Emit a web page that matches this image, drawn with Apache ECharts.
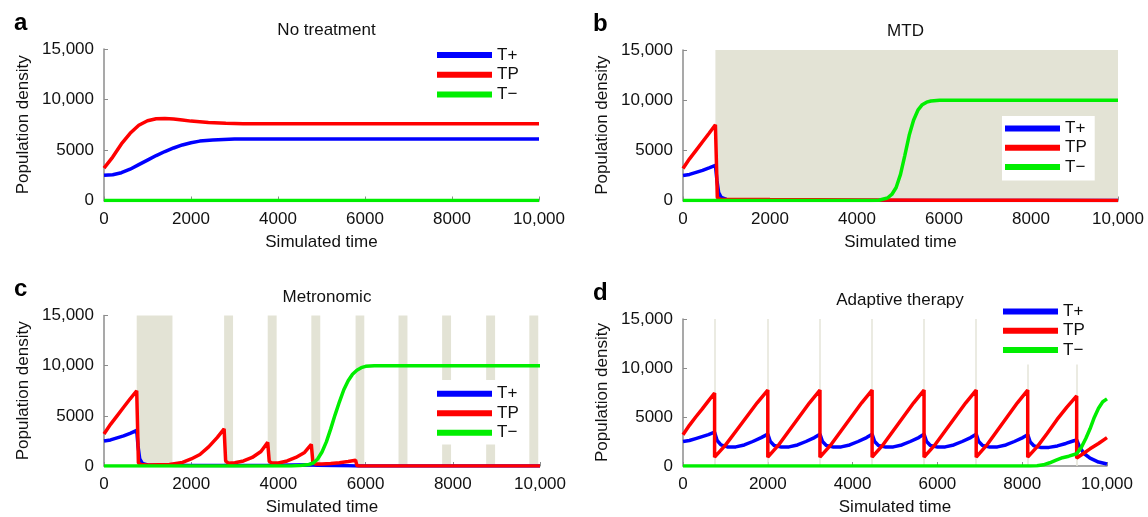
<!DOCTYPE html>
<html>
<head>
<meta charset="utf-8">
<script src="https://cdn.jsdelivr.net/npm/echarts@6/dist/echarts.min.js"></script>
<style>
  html, body { margin: 0; padding: 0; background: #fff; }
  #main { width: 1148px; height: 517px; }
</style>
</head>
<body>
<div id="main"></div>
<script>
// ---- data: [time, population density] ----
var xTicks = [0, 2000, 4000, 6000, 8000, 10000];
var yTicks = [0, 5000, 10000, 15000];
var names = ['T+', 'TP', 'T\u2212'];

// a  No treatment
var aTplus = [[0, 2500], [200, 2550], [400, 2750], [600, 3100], [800, 3550], [1000, 4000], [1200, 4450], [1400, 4850],
  [1600, 5200], [1800, 5500], [2000, 5720], [2200, 5880], [2500, 6000], [3000, 6080], [3500, 6100], [10000, 6100]];
var aTP = [[0, 3200], [200, 4300], [400, 5600], [600, 6650], [800, 7450], [1000, 7900], [1200, 8100], [1400, 8120],
  [1600, 8060], [1800, 7960], [2000, 7860], [2400, 7720], [2800, 7640], [3200, 7610], [4000, 7600], [10000, 7600]];
var aTminus = [[0, 0], [10000, 0]];

// b  MTD
var bTplus = [[0, 2500], [150, 2600], [300, 2800], [450, 3000], [600, 3250], [745, 3500], [780, 2000], [820, 800],
  [880, 300], [1000, 100], [1500, 30], [10000, 0]];
var bTP = [[0, 3200], [150, 4150], [300, 5000], [450, 5850], [600, 6700], [745, 7550], [790, 300], [850, 120],
  [2000, 90], [4000, 60], [6000, 30], [8000, 15], [10000, 5]];
var bTminus = [[0, 0], [4300, 0], [4500, 30], [4700, 250], [4800, 600], [4900, 1300], [5000, 2600], [5100, 4500],
  [5200, 6500], [5300, 8000], [5400, 9000], [5500, 9550], [5600, 9800], [5700, 9920], [5900, 10000], [10000, 10000]];
var bTreat = [[745, 10000]];

// c  Metronomic
var cTplus = [[0, 2500], [150, 2600], [300, 2800], [450, 3000], [600, 3250], [750, 3550], [780, 2000], [820, 700],
  [880, 250], [1000, 100], [2000, 60], [3000, 50], [4000, 80], [4700, 120], [4900, 80], [5200, 40], [5600, 20],
  [5800, 0], [10000, 0]];
var cTP = [[0, 3200], [150, 4150], [300, 5000], [450, 5850], [600, 6700], [750, 7500], [790, 300], [850, 150],
  [1000, 100], [1500, 150], [1800, 350], [2000, 700], [2200, 1150], [2400, 1900], [2600, 2850], [2755, 3700],
  [2790, 500], [2850, 280], [3000, 330], [3200, 500], [3400, 850], [3600, 1450], [3755, 2350],
  [3790, 450], [3850, 300], [4000, 300], [4200, 500], [4400, 850], [4600, 1350], [4755, 2150],
  [4790, 400], [4850, 200], [5000, 200], [5200, 250], [5400, 330], [5600, 450], [5770, 580],
  [5800, 50], [5850, 0], [10000, 0]];
var cTminus = [[0, 0], [4300, 0], [4500, 40], [4700, 150], [4800, 300], [4900, 700], [5000, 1400], [5100, 2400],
  [5200, 3700], [5300, 5100], [5400, 6400], [5500, 7600], [5600, 8500], [5700, 9150], [5800, 9550], [5900, 9800],
  [6000, 9930], [6200, 10000], [10000, 10000]];
var cTreat = [[750, 1570], [2755, 2960], [3755, 3960], [4755, 4960], [5770, 5970], [6755, 6960], [7755, 7960],
  [8765, 8970], [9755, 9960]];

// d  Adaptive therapy
var dTplus = [[0, 2500], [150, 2600], [300, 2800], [450, 3000], [600, 3200], [745, 3450],
  [805, 2600], [895, 2150], [1045, 1950], [1245, 1950], [1445, 2150], [1645, 2500], [1845, 2900], [2000, 3250],
  [2060, 2500], [2150, 2100], [2300, 1950], [2500, 1950], [2700, 2150], [2900, 2500], [3100, 2900], [3230, 3250],
  [3290, 2500], [3380, 2100], [3530, 1950], [3730, 1950], [3930, 2150], [4130, 2500], [4330, 2900], [4460, 3250],
  [4520, 2500], [4610, 2100], [4760, 1950], [4960, 1950], [5160, 2150], [5360, 2500], [5560, 2900], [5685, 3250],
  [5745, 2500], [5835, 2100], [5985, 1950], [6185, 1950], [6385, 2150], [6585, 2500], [6785, 2900], [6915, 3250],
  [6975, 2500], [7065, 2100], [7215, 1950], [7415, 1950], [7615, 2150], [7815, 2500], [8015, 2900], [8130, 3200],
  [8190, 2450], [8280, 2050], [8430, 1900], [8630, 1900], [8830, 2050], [9030, 2300], [9200, 2550], [9285, 2650],
  [9350, 2000], [9450, 1300], [9600, 800], [9800, 400], [10000, 200]];
var dTP = [[0, 3200], [150, 4150], [300, 5000], [450, 5800], [600, 6650], [745, 7450],
  [745, 900], [996, 2100], [1247, 3550], [1498, 5000], [1749, 6450], [2000, 7750],
  [2000, 900], [2246, 2100], [2492, 3550], [2738, 5000], [2984, 6450], [3230, 7750],
  [3230, 900], [3476, 2100], [3722, 3550], [3968, 5000], [4214, 6450], [4460, 7750],
  [4460, 900], [4705, 2100], [4950, 3550], [5195, 5000], [5440, 6450], [5685, 7750],
  [5685, 900], [5931, 2100], [6177, 3550], [6423, 5000], [6669, 6450], [6915, 7750],
  [6915, 900], [7158, 2100], [7401, 3550], [7644, 5000], [7887, 6450], [8130, 7750],
  [8130, 900], [8361, 2000], [8592, 3350], [8823, 4750], [9054, 6000], [9285, 7150],
  [9285, 800], [9400, 1150], [9600, 1750], [9800, 2300], [10000, 2900]];
var dTminus = [[0, 0], [8200, 0], [8350, 30], [8500, 120], [8650, 330], [8800, 600], [8950, 850], [9100, 1000],
  [9285, 1250], [9400, 1950], [9500, 2800], [9600, 3800], [9700, 4950], [9800, 5900], [9900, 6550], [10000, 6850]];
var dTreat = [745, 2000, 3230, 4460, 5685, 6915, 8130, 9285];

// ---- layout of the four panels (px) ----
var panels = [
  { letter: 'a', title: 'No treatment',     grid: { left: 104, top: 49,  width: 435, height: 151.5 }, legend: { left: 437, top: 45,  padding: [0, 8, 0, 0], gap: 19.8 } },
  { letter: 'b', title: 'MTD',              grid: { left: 683, top: 50,  width: 435, height: 150.5 }, legend: { left: 1002, top: 116, padding: [3, 8, 4, 3], gap: 19.2 } },
  { letter: 'c', title: 'Metronomic',       grid: { left: 104, top: 315.5, width: 436, height: 151.5 }, legend: { left: 430, top: 380, padding: [4, 8, 2, 7], gap: 19.5 } },
  { letter: 'd', title: 'Adaptive therapy', grid: { left: 683, top: 319, width: 424, height: 148.3 }, legend: { left: 997, top: 298, padding: [4, 8, 5, 6], gap: 19.2 } }
];
var colors = ['#0000ff', '#ff0000', '#00ee00'];
var shade = '#e3e3d5';
var font = 'Liberation Sans, Arial, Helvetica, sans-serif';

function fmt(v) {
  return v >= 10000 ? String(v).replace(/\B(?=(\d{3})+(?!\d))/g, ',') : String(v);
}

var option = {
  animation: false,
  textStyle: { fontFamily: font },
  title: [], grid: [], xAxis: [], yAxis: [], legend: [], series: []
};

panels.forEach(function (p, i) {
  var g = p.grid;
  option.grid.push(g);
  option.title.push({
    text: p.letter, left: g.left - 95, top: g.top - 43,
    textStyle: { fontFamily: font, fontSize: 24, fontWeight: 'bold', color: '#000' }
  });
  option.title.push({
    text: p.title, left: g.left + g.width / 2, top: g.top - 32, textAlign: 'center',
    textStyle: { fontFamily: font, fontSize: 17, fontWeight: 'normal', color: '#111' }
  });
  var axisStyle = { lineStyle: { color: '#8c8c8c', width: 1.5 } };
  option.xAxis.push({
    gridIndex: i, type: 'value', min: 0, max: 10000, interval: 2000,
    name: 'Simulated time', nameLocation: 'middle', nameGap: 33,
    nameTextStyle: { fontFamily: font, fontSize: 17, color: '#111' },
    axisLine: axisStyle, axisTick: { inside: true, length: 4, lineStyle: { color: '#8c8c8c' } },
    axisLabel: { fontSize: 17, color: '#111', margin: 10, formatter: fmt },
    splitLine: { show: false }
  });
  option.yAxis.push({
    gridIndex: i, type: 'value', min: 0, max: 15000, interval: 5000,
    name: 'Population density', nameLocation: 'middle', nameGap: 72,
    nameTextStyle: { fontFamily: font, fontSize: 17, color: '#111' },
    axisLine: axisStyle, axisTick: { inside: true, length: 4, lineStyle: { color: '#8c8c8c' } },
    axisLabel: { fontSize: 17, color: '#111', margin: 10, formatter: fmt },
    splitLine: { show: false }
  });
  option.legend.push({
    data: names, orient: 'vertical', left: p.legend.left, top: p.legend.top,
    padding: p.legend.padding, itemGap: 0, icon: 'rect', itemWidth: 55, itemHeight: 6,
    backgroundColor: '#fff', selectedMode: false, z: 10,
    textStyle: { fontFamily: font, fontSize: 17, color: '#111', lineHeight: p.legend.gap }
  });
});

// treatment shading / markers sit on their own empty series behind the curves
option.series.push({
  type: 'line', xAxisIndex: 1, yAxisIndex: 1, data: [], z: 1, silent: true,
  markArea: { silent: true, z: 1, itemStyle: { color: shade }, data: bTreat.map(function (r) { return [{ xAxis: r[0] }, { xAxis: r[1] }]; }) }
});
option.series.push({
  type: 'line', xAxisIndex: 2, yAxisIndex: 2, data: [], z: 1, silent: true,
  markArea: { silent: true, z: 1, itemStyle: { color: shade }, data: cTreat.map(function (r) { return [{ xAxis: r[0] }, { xAxis: r[1] }]; }) }
});
option.series.push({
  type: 'line', xAxisIndex: 3, yAxisIndex: 3, data: [], z: 1, silent: true,
  markLine: {
    silent: true, z: 1, symbol: ['none', 'none'], label: { show: false },
    lineStyle: { color: '#e4e4d8', width: 1.5, type: 'solid' },
    data: dTreat.map(function (t) { return { xAxis: t }; })
  }
});

var seriesData = [
  [aTplus, aTP, aTminus],
  [bTplus, bTP, bTminus],
  [cTplus, cTP, cTminus],
  [dTplus, dTP, dTminus]
];
seriesData.forEach(function (set, i) {
  set.forEach(function (d, k) {
    option.series.push({
      name: names[k], type: 'line', xAxisIndex: i, yAxisIndex: i, data: d, z: 3,
      showSymbol: false, symbol: 'none',
      lineStyle: { color: colors[k], width: 3.5 }, itemStyle: { color: colors[k] }
    });
  });
});

var chart = echarts.init(document.getElementById('main'));
chart.setOption(option);
</script>
</body>
</html>
